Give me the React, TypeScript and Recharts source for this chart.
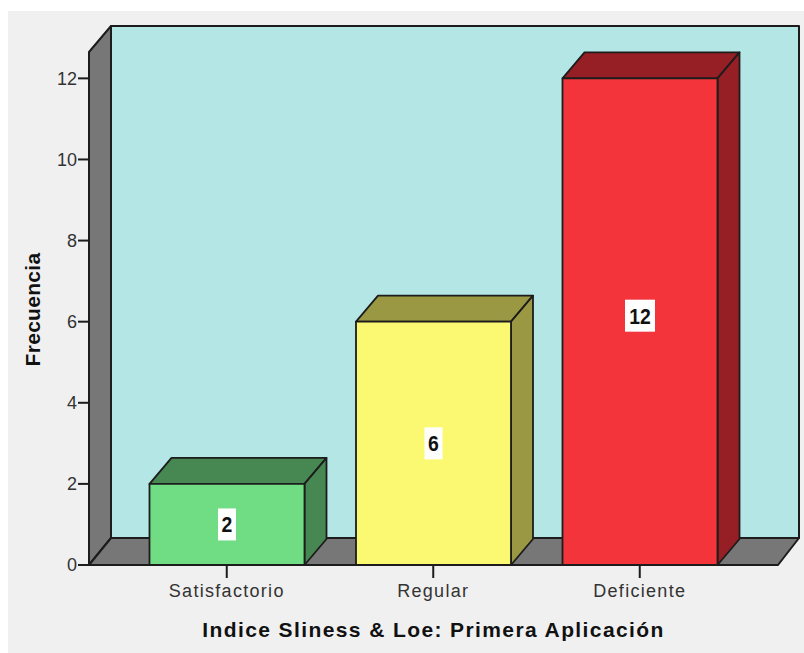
import { Bar, BarChart, LabelList, ReferenceArea, XAxis, YAxis } from "recharts";

const categories = ["Satisfactorio", "Regular", "Deficiente"];
const frecuencia = [2, 6, 12];
const yTicks = [0, 2, 4, 6, 8, 10, 12];
const yMax = 12.65;

const frontColors = ["#70DD84", "#FBF872", "#F3343B"];
const sideColors = ["#478752", "#9A9842", "#951F24"];

const rows = categories.map((name, i) => ({ name, value: frecuencia[i] }));

const DX = 22;
const DY = 26;
const PAD_LEFT = 34.5;
const PAD_RIGHT = 35;
const EDGE = "#1c1c1c";
const FONT = "'Liberation Sans', Arial, sans-serif";

// the reference area only spans the padded range, so widen it back to the full plot
function Walls({ x, y, width, height }: any) {
  const l = x - PAD_LEFT;
  const r = x + width + PAD_RIGHT;
  const b = y + height;
  return (
    <g stroke={EDGE} strokeWidth={2} strokeLinejoin="round">
      <rect x={l + DX} y={y - DY} width={r - l - 1} height={height - 1} fill="#B5E6E6" />
      <path d={`M${l},${y} L${l + DX},${y - DY} L${l + DX},${b - DY - 1} L${l},${b} Z`} fill="#777777" />
      <path d={`M${l},${b} L${l + DX},${b - DY - 1} L${r + DX - 1},${b - DY - 1} L${r},${b} Z`} fill="#777777" />
    </g>
  );
}

function Box3D({ x, y, width, height, index }: any) {
  const r = x + width;
  const b = y + height;
  return (
    <g stroke={EDGE} strokeWidth={1.8} strokeLinejoin="round">
      <path d={`M${x},${y} L${x + DX},${y - DY} L${r + DX},${y - DY} L${r},${y} Z`} fill={sideColors[index]} />
      <path d={`M${r},${y} L${r + DX},${y - DY} L${r + DX},${b - DY} L${r},${b} Z`} fill={sideColors[index]} />
      <rect x={x} y={y} width={width} height={height} fill={frontColors[index]} />
    </g>
  );
}

function BoxLabel({ x, y, width, height, value }: any) {
  const cx = x + width / 2;
  // the tall bar's label sits a bit above its middle in the original
  const cy = y + height / 2 - (value > 10 ? 6 : 0);
  const w = String(value).length > 1 ? 30 : 18;
  return (
    <g>
      <rect x={cx - w / 2} y={cy - 16} width={w} height={32} fill="#ffffff" />
      <text
        transform={`translate(${cx},${cy + 8}) scale(0.88,1)`}
        textAnchor="middle"
        fontFamily={FONT}
        fontWeight="bold"
        fontSize={22}
        fill="#111111"
      >
        {value}
      </text>
    </g>
  );
}

function YTitle({ viewBox }: any) {
  const cy = viewBox.y + viewBox.height / 2 + 1;
  return (
    <text
      transform={`translate(32,${cy}) rotate(-90)`}
      textAnchor="middle"
      fontFamily={FONT}
      fontWeight="bold"
      fontSize={21}
      letterSpacing={0.3}
      fill="#111111"
    >
      Frecuencia
    </text>
  );
}

export default function App() {
  return (
    <div style={{ position: "absolute", left: 8, top: 11, width: 796, height: 642, background: "#F0F0F0" }}>
      <BarChart
        width={796}
        height={642}
        data={rows}
        barSize={155}
        margin={{ top: 41, right: 26, bottom: 0, left: 0 }}
      >
        <XAxis
          dataKey="name"
          height={88}
          padding={{ left: PAD_LEFT, right: PAD_RIGHT }}
          axisLine={{ stroke: EDGE, strokeWidth: 2 }}
          tickLine={{ stroke: EDGE, strokeWidth: 2 }}
          tickSize={13}
          tickMargin={6}
          tick={{ fill: "#333333", fontSize: 18, fontFamily: FONT, letterSpacing: 1.3 }}
          label={{
            value: "Indice Sliness & Loe: Primera Aplicación",
            position: "insideBottom",
            offset: 16,
            fill: "#111111",
            fontSize: 21,
            fontWeight: "bold",
            fontFamily: FONT,
            letterSpacing: 1.4,
          }}
        />
        <YAxis
          width={81}
          domain={[0, yMax]}
          ticks={yTicks}
          interval={0}
          axisLine={{ stroke: EDGE, strokeWidth: 2 }}
          tickLine={{ stroke: EDGE, strokeWidth: 2 }}
          tickSize={11}
          tickMargin={1}
          tick={{ fill: "#333333", fontSize: 18, fontFamily: FONT }}
          label={<YTitle />}
        />
        <ReferenceArea y1={0} y2={yMax} ifOverflow="visible" shape={<Walls />} />
        <Bar dataKey="value" isAnimationActive={false} shape={<Box3D />}>
          <LabelList dataKey="value" content={<BoxLabel />} />
        </Bar>
      </BarChart>
    </div>
  );
}
